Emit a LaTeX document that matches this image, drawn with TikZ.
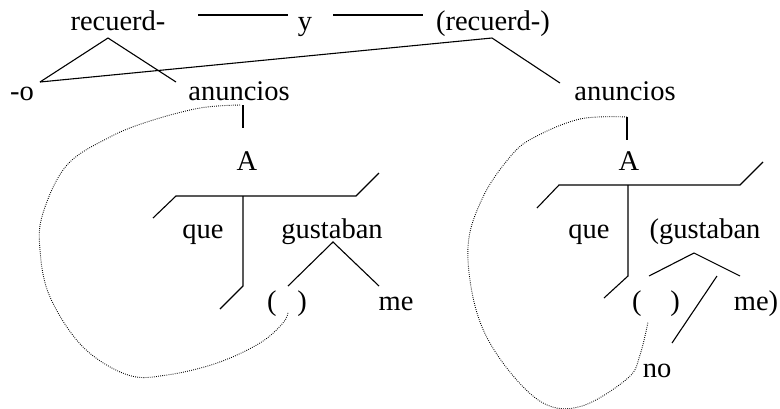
\documentclass[tikz,border=0pt]{standalone}
\usepackage{fontspec}
\setmainfont{Liberation Serif}
\begin{document}
\begin{tikzpicture}[x=1pt,y=-1pt,
  word/.style={anchor=base,inner sep=0pt,font=\fontsize{28.5}{30}\selectfont},
  branch/.style={line width=1.1pt},
  trace/.style={line width=0.9pt,dash pattern=on 0.8pt off 1.3pt}]
\useasboundingbox (0,0) rectangle (780,408);
% words
\node[word] (rec) at (118,30) {recuerd-};
\node[word] (y) at (305,30) {y};
\node[word] (rec2) at (493,30) {(recuerd-)};
\node[word] (o) at (22,100) {-o};
\node[word] (an1) at (239,100) {anuncios};
\node[word] (an2) at (625,100) {anuncios};
\node[word] (A1) at (247,170) {A};
\node[word] (A2) at (629,170) {A};
\node[word] (que1) at (203,238) {que};
\node[word] (gus1) at (332,238) {gustaban};
\node[word] (par1) at (287,310) {(\hspace{21pt})};
\node[word] (me1) at (396,310) {me};
\node[word] (que2) at (589,238) {que};
\node[word] (gus2) at (705,238) {(gustaban};
\node[word] (par2) at (656,310) {(\hspace{29pt})};
\node[word] (me2) at (756,310) {me)};
\node[word] (no) at (657,377) {no};
% coordinates
\coordinate (yl1) at (198,15); \coordinate (yl2) at (288,15);
\coordinate (yr1) at (333,15); \coordinate (yr2) at (423,15);
\coordinate (recT) at (108,38);
\coordinate (oT) at (40,82);
\coordinate (anT) at (176,82);
\coordinate (rec2T) at (492,38);
\coordinate (an2T) at (560,83);
\coordinate (an1B) at (243,105); \coordinate (A1T) at (243,128);
\coordinate (an2B) at (627,117); \coordinate (A2T) at (627,140);
% left tree
\coordinate (b1l) at (153,218); \coordinate (b1a) at (176,196);
\coordinate (b1m) at (243,196); \coordinate (b1b) at (356,196);
\coordinate (b1r) at (379,173);
\coordinate (v1b) at (243,286); \coordinate (v1e) at (220,309);
\coordinate (g1T) at (333,242); \coordinate (g1l) at (288,286); \coordinate (g1r) at (379,286);
% right tree
\coordinate (b2l) at (537,208); \coordinate (b2a) at (559,185);
\coordinate (b2m) at (628,185); \coordinate (b2b) at (740,185);
\coordinate (b2r) at (763,162);
\coordinate (v2b) at (628,276); \coordinate (v2e) at (604,298);
\coordinate (g2T) at (694,253); \coordinate (g2l) at (649,276); \coordinate (g2r) at (740,276);
\coordinate (n1) at (717,276); \coordinate (n2) at (672,343);
% solid lines
\draw[branch] (yl1) -- (yl2);
\draw[branch] (yr1) -- (yr2);
\draw[branch] (oT) -- (recT) -- (anT);
\draw[branch] (oT) -- (rec2T) -- (an2T);
\draw[branch] (an1B) -- (A1T);
\draw[branch] (an2B) -- (A2T);
\draw[branch] (b1l) -- (b1a) -- (b1b) -- (b1r);
\draw[branch] (b1m) -- (v1b) -- (v1e);
\draw[branch] (g1l) -- (g1T) -- (g1r);
\draw[branch] (b2l) -- (b2a) -- (b2b) -- (b2r);
\draw[branch] (b2m) -- (v2b) -- (v2e);
\draw[branch] (g2l) -- (g2T) -- (g2r);
\draw[branch] (n1) -- (n2);
% dotted traces
\draw[trace] plot[smooth,tension=0.6] coordinates {(240,105) (200,108) (150,121) (110,137) (67,165) (43,213) (40,250) (50,297) (83,347) (128,375) (167,375) (217,363) (260,343) (283,323) (288,312)};
\draw[trace] plot[smooth,tension=0.6] coordinates {(627,117) (580,119) (533,138) (510,157) (483,197) (468,247) (477,313) (503,363) (543,403) (582,406) (628,378) (640,355) (648,322)};
\end{tikzpicture}
\end{document}
